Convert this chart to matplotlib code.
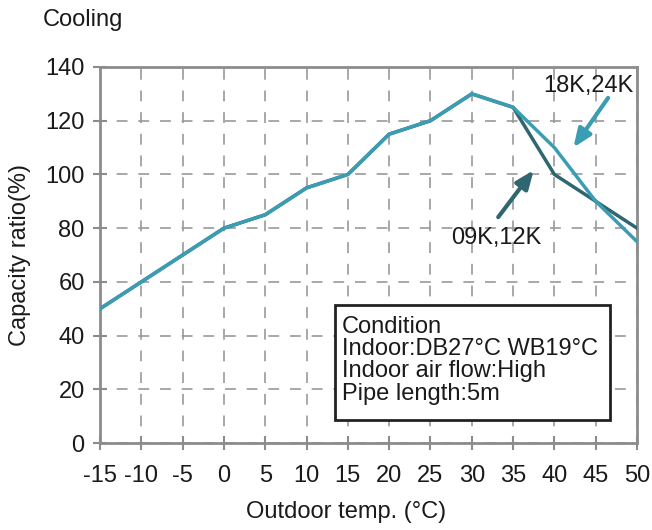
import numpy as np
import matplotlib.pyplot as plt
from matplotlib.patches import Rectangle

plt.rcParams['font.family'] = ['Liberation Sans', 'DejaVu Sans']

temps = [-15, -10, -5, 0, 5, 10, 15, 20, 25, 30, 35, 40, 45, 50]
ratio_18k_24k = [50, 60, 70, 80, 85, 95, 100, 115, 120, 130, 125, 110, 90, 75]
ratio_09k_12k = [50, 60, 70, 80, 85, 95, 100, 115, 120, 130, 125, 100, 90, 80]
yticks = [0, 20, 40, 60, 80, 100, 120, 140]

light = '#3b9db4'
dark = '#2f666f'
gray = '#8c8c8c'
txt = '#1a1a1a'
fs = 17

fig = plt.figure(figsize=(6.52, 5.30), dpi=100)
ax = fig.add_axes([0.1534, 0.164, 0.8236, 0.7096])

ax.plot(temps, ratio_09k_12k, color=dark, lw=2.5, zorder=3)
ax.plot(temps, ratio_18k_24k, color=light, lw=2.5, zorder=4)

ax.set_xlim(-15, 50)
ax.set_ylim(0, 140)
ax.set_xticks(temps)
ax.set_xticklabels([str(t) for t in temps])
ax.set_yticks(yticks)
ax.grid(True, ls=(3, (6.5, 6.5)), color='#999999', lw=1.2)
for s in ax.spines.values():
    s.set_color(gray)
    s.set_linewidth(2)
ax.tick_params(direction='inout', length=10, width=1.5, color=gray,
               labelsize=fs, labelcolor=txt)
ax.tick_params(axis='x', pad=11)
ax.tick_params(axis='y', pad=6)

arrow = dict(arrowstyle='-|>,head_length=1.1,head_width=0.45', lw=3,
             shrinkA=0, shrinkB=0)
ax.annotate('', xy=(42.3, 110), xytext=(46.5, 128.5),
            arrowprops=dict(color=light, **arrow), zorder=5)
ax.text(44.1, 132.8, '18K,24K', ha='center', va='center', fontsize=fs, color=txt)
ax.annotate('', xy=(37.5, 101.6), xytext=(33.2, 84.1),
            arrowprops=dict(color=dark, **arrow), zorder=5)
ax.text(33.0, 76.5, '09K,12K', ha='center', va='center', fontsize=fs, color=txt)

# condition box
ax.add_patch(Rectangle((13.45, 8.6), 33.3, 42.8, fc='white', ec='#222222',
                       lw=2, zorder=6))
ax.text(14.3, 30.8, 'Condition\nIndoor:DB27°C WB19°C\nIndoor air flow:High\nPipe length:5m',
        fontsize=fs, va='center', ha='left', linespacing=1.01, zorder=7, color=txt)

ax.set_ylabel('Capacity ratio(%)', fontsize=fs, labelpad=10, color=txt)
ax.set_xlabel('Outdoor temp. (°C)', fontsize=fs, labelpad=14, color=txt)
ax.xaxis.set_label_coords(0.458, -0.155)
fig.text(0.066, 0.963, 'Cooling', fontsize=fs, va='center', ha='left', color=txt)

fig.savefig('out.png', dpi=100)
